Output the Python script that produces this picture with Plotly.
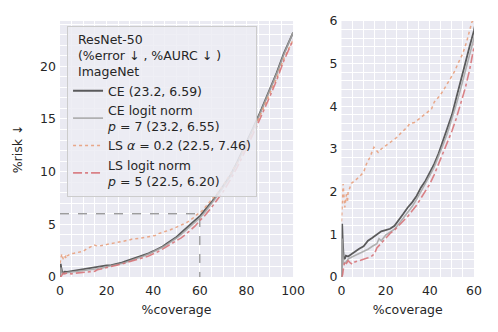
import plotly.graph_objects as go
from plotly.subplots import make_subplots

# risk-coverage curves, values (coverage %, risk %)
ce_cov = [0, 0.3, 0.6, 1.0, 1.5, 2, 3, 4, 6, 8, 10, 12, 14, 16, 18, 20, 22, 24, 26, 28, 30,
          32, 34, 36, 38, 40, 42, 44, 46, 48, 50, 52, 54, 56, 58, 60, 62, 65, 68, 70, 73, 76,
          80, 83, 86, 90, 93, 96, 98, 100]
ce_risk = [0, 1.25, 0.8, 0.45, 0.42, 0.5, 0.48, 0.52, 0.6, 0.66, 0.72, 0.85, 0.92, 1.0, 1.07,
           1.1, 1.13, 1.2, 1.33, 1.48, 1.63, 1.75, 1.9, 2.1, 2.25, 2.45, 2.65, 2.9, 3.2, 3.47,
           3.8, 4.2, 4.57, 5.0, 5.4, 5.78, 6.3, 7.1, 8.0, 8.6, 9.6, 10.9, 12.7, 14.2, 15.7, 17.8,
           19.4, 21.2, 22.2, 23.2]

celn_cov = [0, 0.3, 0.7, 1, 2, 3, 4, 6, 8, 10, 12, 14, 16, 17, 18, 20, 22, 24, 26, 28, 30,
            32, 34, 36, 38, 40, 42, 44, 46, 48, 50, 52, 54, 56, 58, 60, 62, 65, 68, 70, 73, 76,
            80, 83, 86, 90, 93, 96, 98, 100]
celn_risk = [0, 0.9, 0.5, 0.3, 0.35, 0.42, 0.45, 0.5, 0.55, 0.6, 0.65, 0.72, 0.78, 0.9, 0.85,
             0.98, 1.05, 1.12, 1.25, 1.38, 1.52, 1.65, 1.82, 2.0, 2.18, 2.38, 2.58, 2.82, 3.1,
             3.38, 3.7, 4.05, 4.42, 4.82, 5.2, 5.6, 6.1, 6.95, 7.85, 8.5, 9.5, 10.8, 12.6, 14.1,
             15.6, 17.7, 19.3, 21.1, 22.1, 23.2]

ls_cov = [0, 0.4, 0.75, 1.1, 1.5, 2, 2.3, 2.7, 3, 3.5, 4.5, 6, 7.5, 9, 10, 11.3, 12.8, 14.7,
          15.5, 16.6, 18, 20.4, 22, 25, 27, 29.5, 31, 33, 35, 37, 39, 40.8, 42, 44.6, 47, 49,
          51, 53, 55, 56.6, 58, 59, 60, 62, 65, 68, 70, 73, 76, 80, 83, 86, 90, 93, 96, 98, 100]
ls_risk = [1.3, 1.8, 2.18, 1.9, 1.63, 1.85, 1.94, 1.75, 2.0, 2.05, 2.2, 2.25, 2.33, 2.4, 2.45,
           2.65, 2.8, 3.04, 2.98, 2.92, 3.0, 3.1, 3.15, 3.27, 3.38, 3.5, 3.6, 3.62, 3.7, 3.78,
           3.85, 3.94, 4.1, 4.25, 4.45, 4.64, 4.8, 5.03, 5.25, 5.5, 5.75, 5.97, 6.05, 6.55, 7.3,
           8.1, 8.7, 9.7, 10.8, 12.5, 13.9, 15.4, 17.4, 18.9, 20.7, 21.6, 22.5]

lsln_cov = [0, 0.5, 1, 1.5, 2, 3, 4, 5, 6, 8, 10, 12, 14, 15, 16, 18, 20, 22, 24, 26, 28, 30,
            32, 34, 36, 38, 40, 42, 44, 46, 48, 50, 52, 54, 56, 58, 60, 62, 65, 68, 70, 73, 76,
            80, 83, 86, 90, 93, 96, 98, 100]
lsln_risk = [0, 0.05, 0.25, 0.35, 0.3, 0.38, 0.33, 0.3, 0.35, 0.38, 0.42, 0.45, 0.5, 0.55, 0.68,
             0.8, 0.92, 1.02, 1.1, 1.2, 1.32, 1.42, 1.55, 1.68, 1.85, 2.0, 2.18, 2.4, 2.65, 2.9,
             3.15, 3.42, 3.72, 4.05, 4.42, 4.85, 5.35, 5.8, 6.6, 7.5, 8.1, 9.2, 10.4, 12.2, 13.6,
             15.1, 17.1, 18.7, 20.5, 21.5, 22.5]

# reference guide at 60% coverage / 6% risk
guide_x = [0, 60, 60]
guide_y = [6, 6, 0]

series = [
    ("CE (23.2, 6.59)", ce_cov, ce_risk, "rgba(65,65,65,0.85)", "solid", 1.8),
    ("CE logit norm<br><i>p</i> = 7 (23.2, 6.55)", celn_cov, celn_risk,
     "rgba(165,165,165,0.85)", "solid", 1.6),
    ("LS <i>α</i> = 0.2 (22.5, 7.46)", ls_cov, ls_risk, "rgba(232,160,125,0.9)", "dot", 1.5),
    ("LS logit norm<br><i>p</i> = 5 (22.5, 6.20)", lsln_cov, lsln_risk,
     "rgba(214,110,115,0.85)", "dashdot", 1.6),
]

FONT = "DejaVu Sans"
BG = "#EAEAF2"

fig = make_subplots(rows=1, cols=2, horizontal_spacing=0.117,
                    column_widths=[0.5628, 0.32])

fig.add_trace(go.Scatter(x=guide_x, y=guide_y, mode="lines", showlegend=False,
                         line=dict(color="#777777", dash="dash", width=1)), row=1, col=1)

for col in (1, 2):
    for name, xs, ys, color, dash, w in series:
        fig.add_trace(go.Scatter(x=xs, y=ys, mode="lines", name=name,
                                 showlegend=(col == 1),
                                 line=dict(color=color, dash=dash, width=w)),
                      row=1, col=col)

grid = dict(showgrid=True, gridcolor="white", gridwidth=1.3, zeroline=False,
            showline=False, ticks="", automargin=False,
            tickfont=dict(size=12.5, color="#262626"))

fig.update_xaxes(range=[0, 100], dtick=20, minor=dict(dtick=5, showgrid=True,
                 gridcolor="white", gridwidth=0.7), row=1, col=1, **grid)
fig.update_yaxes(range=[0, 24.3], dtick=5, minor=dict(dtick=1, showgrid=True,
                 gridcolor="white", gridwidth=0.7), row=1, col=1, **grid)
fig.update_xaxes(range=[0, 60], dtick=20, minor=dict(dtick=5, showgrid=True,
                 gridcolor="white", gridwidth=0.7), row=1, col=2, **grid)
fig.update_yaxes(range=[0, 6], dtick=1, minor=dict(dtick=0.2, showgrid=True,
                 gridcolor="white", gridwidth=0.7), row=1, col=2, **grid)

fig.update_xaxes(ticklabelstandoff=4,
                 title=dict(text="%coverage", font=dict(size=12.5), standoff=8))
fig.update_yaxes(ticklabelstandoff=3)
fig.update_yaxes(title=dict(text="%risk ↓", font=dict(size=12.5), standoff=14), row=1, col=1)

# the page body keeps its default 8px margin, so the figure is 8px smaller
fig.update_layout(
    width=490, height=324,
    margin=dict(l=52, r=24, t=13, b=55),
    paper_bgcolor="white", plot_bgcolor=BG,
    font=dict(family=FONT, size=12.5, color="#262626"),
    legend=dict(
        x=0.017, y=0.979, xanchor="left", yanchor="top",
        bgcolor="rgba(236,236,243,0.85)", bordercolor="#cccccc", borderwidth=1,
        font=dict(size=12.5), itemwidth=30,
        title=dict(text="&nbsp;&nbsp;ResNet-50<br>&nbsp;&nbsp;(%error ↓ , %AURC ↓ )"
                        "<br>&nbsp;&nbsp;ImageNet",
                   font=dict(size=12.5)),
    ),
)

fig.write_html("out.html")
